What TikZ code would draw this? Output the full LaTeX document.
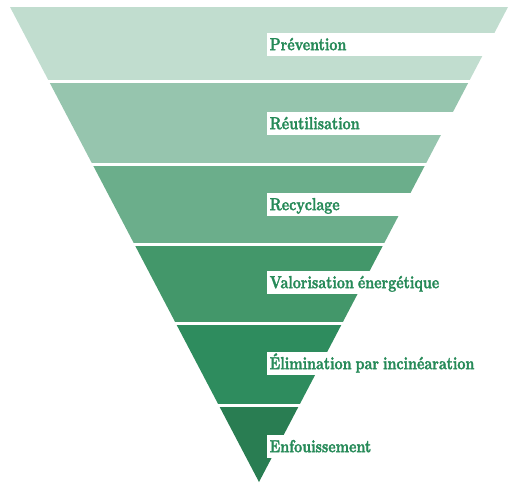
\documentclass[tikz,border=0pt]{standalone}
\usepackage{fontspec}
\newfontfamily\labelfont{lmroman10-bold.otf}[FakeStretch=0.8,FakeBold=1.6,WordSpace=0.75]
\definecolor{bandA}{RGB}{193,221,207}
\definecolor{bandB}{RGB}{150,197,174}
\definecolor{bandC}{RGB}{107,174,139}
\definecolor{bandD}{RGB}{67,151,106}
\definecolor{bandE}{RGB}{46,140,94}
\definecolor{bandF}{RGB}{41,125,82}
\definecolor{labelgreen}{RGB}{38,138,88}
\tikzset{
  labelbox/.style={fill=white, draw=none, anchor=north west, inner sep=0pt, minimum width=250pt, minimum height=23pt},
  labeltext/.style={anchor=base west, inner sep=0pt, text=labelgreen, font=\labelfont\fontsize{17.5}{20}\selectfont},
}
\begin{document}
\begin{tikzpicture}[x=1pt,y=-1pt]
\useasboundingbox (0,0) rectangle (515,483);
\begin{scope}
  \clip (10,7) -- (508,7) -- (259,482) -- cycle;
  \fill[bandA] (0,7) rectangle (515,80);
  \fill[bandB] (0,83) rectangle (515,163);
  \fill[bandC] (0,166) rectangle (515,243);
  \fill[bandD] (0,246) rectangle (515,322);
  \fill[bandE] (0,325) rectangle (515,404);
  \fill[bandF] (0,407) rectangle (515,483);
\end{scope}
\node[labelbox] (b1) at (267,33) {};
\node[labelbox] (b2) at (267,112) {};
\node[labelbox] (b3) at (267,193) {};
\node[labelbox] (b4) at (267,271) {};
\node[labelbox] (b5) at (267,352) {};
\node[labelbox] (b6) at (267,435) {};
\node[labeltext] (t1) at ([xshift=2.5pt,yshift=-5.5pt]b1.west) {Prévention};
\node[labeltext] (t2) at ([xshift=2.5pt,yshift=-5.5pt]b2.west) {Réutilisation};
\node[labeltext] (t3) at ([xshift=2.5pt,yshift=-5.5pt]b3.west) {Recyclage};
\node[labeltext] (t4) at ([xshift=2.5pt,yshift=-5.5pt]b4.west) {Valorisation énergétique};
\node[labeltext] (t5) at ([xshift=2.5pt,yshift=-5.5pt]b5.west) {Élimination par incinéaration};
\node[labeltext] (t6) at ([xshift=2.5pt,yshift=-5.5pt]b6.west) {Enfouissement};
\end{tikzpicture}
\end{document}
